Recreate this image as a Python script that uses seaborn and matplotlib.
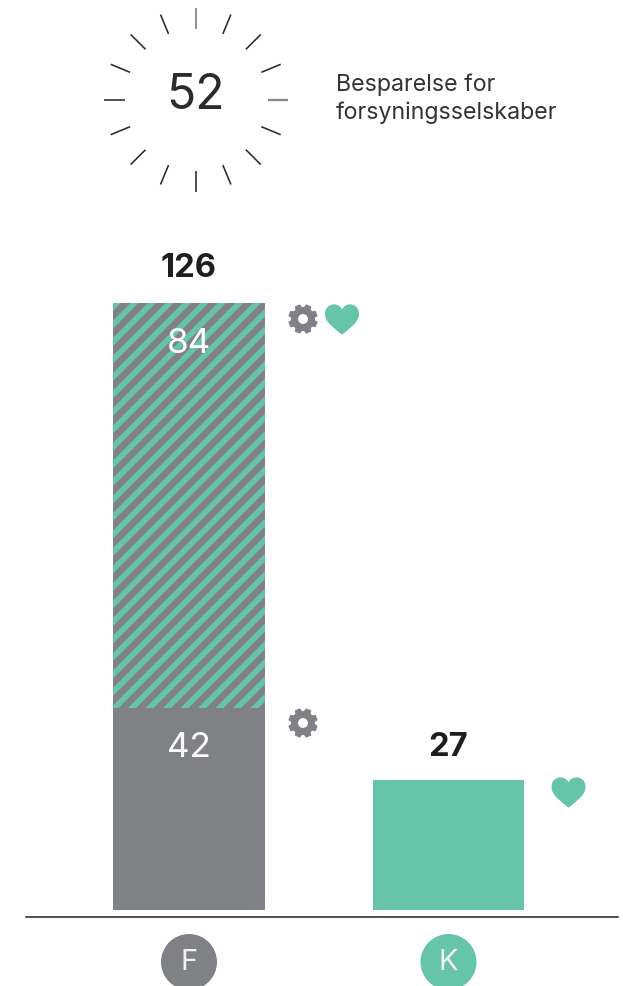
import numpy as np
import pandas as pd
import matplotlib
matplotlib.use('Agg')
import matplotlib.pyplot as plt
from matplotlib.patches import Circle, PathPatch, Polygon
from matplotlib.path import Path
import seaborn as sns

categories = ['F', 'K']
totals = [126, 27]
lower_values = [42]
upper_label = 84
center_value = 52
center_text = ['Besparelse for', 'forsyningsselskaber']

GRAY = '#808184'
GREEN = '#66C5A9'
INK = '#2B2B2D'

sns.set_theme(style='white')
plt.rcParams['font.family'] = ['Inter', 'DejaVu Sans']
plt.rcParams['hatch.linewidth'] = 3.9

W, H, DPI = 623, 986, 105
fig = plt.figure(figsize=(W / DPI, H / DPI), dpi=DPI)

# main axes: bottom spine sits at y=917px, bars start 7px above it
ax = fig.add_axes([26 / W, 1 - 917 / H, (618 - 26) / W, 917 / H])
df = pd.DataFrame({'cat': categories, 'total': totals})
sns.barplot(data=df, x='cat', y='total', hue='cat', palette=[GRAY, GREEN], order=categories,
            width=0.585, saturation=1, dodge=False, legend=False, linewidth=0, ax=ax)
ax.patches[0].set_hatch('//')
ax.patches[0].set_edgecolor(GREEN)
sns.barplot(x=categories[:1], y=lower_values, order=categories, color=GRAY, width=0.585,
            saturation=1, linewidth=0, ax=ax)

ax.set_xlim(-0.628, 1.653)
ax.set_ylim(-1.45, 188.8)
ax.set_xlabel('')
ax.set_ylabel('')
ax.set_xticks([])
ax.set_yticks([])
ax.patch.set_alpha(0)
sns.despine(ax=ax, left=True)
ax.spines['bottom'].set_color(INK)
ax.spines['bottom'].set_linewidth(1.1)

for i, (v, off) in enumerate(zip(totals, [23.5, 22])):
    ax.annotate(str(v), (i, v), xytext=(0, off), textcoords='offset points', ha='center', va='center',
                fontsize=22.5, fontweight='bold', color='#1E1E20')
ax.annotate(str(upper_label), (0, totals[0]), xytext=(0, -28), textcoords='offset points', ha='center',
            va='center', fontsize=24, color='white')
ax.annotate(str(lower_values[0]), (0, lower_values[0]), xytext=(0, -28), textcoords='offset points', ha='center',
            va='center', fontsize=24, color='white')

# overlay in pixel coords for the icons and the sunburst
ov = fig.add_axes([0, 0, 1, 1])
ov.set_xlim(0, W)
ov.set_ylim(H, 0)
ov.axis('off')
ov.patch.set_alpha(0)


def gear(x, y, r=15, color=GRAY):
    angs = np.linspace(0, 2 * np.pi, 8, endpoint=False) + np.pi / 8
    pts = []
    for a in angs:
        for da, rad in [(-0.30, 0.80), (-0.19, 1.0), (0.19, 1.0), (0.30, 0.80)]:
            pts.append((x + r * rad * np.cos(a + da), y + r * rad * np.sin(a + da)))
    ov.add_patch(Polygon(pts, closed=True, fc=color, ec='none'))
    ov.add_patch(Circle((x, y), r * 0.33, fc='white', ec='none'))


def heart(x, y, w=34, color=GREEN):
    s = w / 2
    verts = [(0, 0.92), (-0.45, 0.55), (-1, 0.2), (-1, -0.3),
             (-1, -0.68), (-0.72, -0.86), (-0.48, -0.86),
             (-0.25, -0.86), (-0.08, -0.74), (0, -0.56),
             (0.08, -0.74), (0.25, -0.86), (0.48, -0.86),
             (0.72, -0.86), (1, -0.68), (1, -0.3),
             (1, 0.2), (0.45, 0.55), (0, 0.92)]
    codes = [Path.MOVETO] + [Path.CURVE4] * 18
    pts = [(x + s * a, y + s * b) for a, b in verts]
    ov.add_patch(PathPatch(Path(pts, codes), fc=color, ec='none'))


gear(303, 319)
heart(342, 319)
gear(303, 723)
heart(568.5, 792)

# category badges
for name, cx, col in zip(categories, [189, 448.5], [GRAY, GREEN]):
    ov.add_patch(Circle((cx, 962), 28, fc=col, ec='none', clip_on=True))
    ov.text(cx, 962, name, ha='center', va='center', color='#F2F2F2', fontsize=20)

# sunburst
cx, cy = 195.7, 99.5
for k in range(16):
    a = k * np.pi / 8
    r0, r1 = 71, 92
    col, lw = INK, 1.1
    if k == 0:
        r0, r1 = 72, 92
        col, lw = '#8A8A8C', 1.6
    elif k == 12:
        col = '#777779'
    ov.plot([cx + r0 * np.cos(a), cx + r1 * np.cos(a)],
            [cy + r0 * np.sin(a), cy + r1 * np.sin(a)], color=col, lw=lw, solid_capstyle='butt')
ov.text(cx, 96, str(center_value), ha='center', va='center', fontsize=33, color=INK)
ov.text(336, 84.5, center_text[0], ha='left', va='center', fontsize=15.9, color='#333335')
ov.text(336, 112.5, center_text[1], ha='left', va='center', fontsize=15.9, color='#333335')

fig.savefig('out.png', dpi=DPI)
